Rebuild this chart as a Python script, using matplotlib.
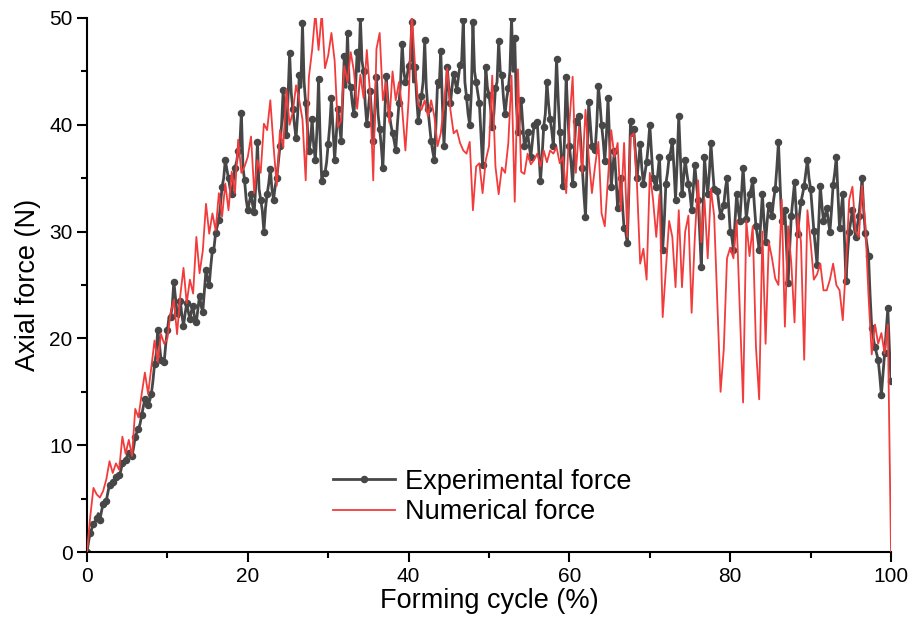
import numpy as np
import matplotlib
matplotlib.use('Agg')
import matplotlib.pyplot as plt
from matplotlib.ticker import MultipleLocator

# Forming cycle sampled every 0.4 % (251 samples, 0 .. 100 %)
cycle_step = 0.4

# Experimental axial force (N) at 0, 0.4, 0.8 ... 100 %
exp_force = [
    # 0 - 9.6 %
    0.0, 1.8, 2.6, 3.2, 3.0, 4.5, 4.8, 6.3, 6.6, 7.0, 7.2, 8.3, 8.6, 9.3, 9.0,
    10.8, 11.5, 12.8, 14.3, 13.8, 14.8, 17.6, 20.8, 18.0, 17.8,
    # 10 - 19.6 %
    20.8, 22.0, 25.3, 22.4, 23.5, 21.2, 23.3, 21.8, 23.0, 21.5, 24.0, 22.5, 26.4, 25.0, 28.3,
    29.9, 31.1, 34.2, 36.7, 35.0, 33.5, 36.0, 37.5, 41.1, 34.8,
    # 20 - 29.6 %
    32.0, 33.5, 31.8, 38.4, 33.0, 30.0, 33.5, 35.9, 33.0, 35.0, 38.0, 43.3, 39.0, 46.7, 41.5,
    38.8, 44.7, 49.5, 42.0, 37.5, 40.5, 36.7, 44.3, 34.7, 35.5,
    # 30 - 39.6 %
    38.2, 42.5, 36.7, 41.5, 38.5, 46.4, 48.6, 43.5, 41.0, 46.8, 50.0, 45.0, 40.1, 43.2, 38.5,
    44.5, 39.6, 36.0, 44.6, 41.0, 39.2, 37.6, 42.0, 47.6, 44.0,
    # 40 - 49.6 %
    45.5, 49.6, 45.4, 40.4, 42.7, 47.9, 41.5, 38.5, 36.7, 44.0, 46.9, 38.0, 45.4, 42.0, 44.8,
    43.3, 45.6, 49.8, 42.6, 40.0, 49.6, 44.0, 42.0, 36.2, 45.4,
    # 50 - 59.6 %
    42.8, 39.8, 43.4, 47.8, 44.7, 41.0, 43.4, 50.0, 48.1, 39.3, 42.3, 38.0, 39.3, 37.0, 40.0,
    40.3, 34.7, 39.8, 44.0, 40.5, 38.0, 46.2, 39.3, 34.3, 44.5,
    # 60 - 69.6 %
    38.0, 34.5, 40.4, 40.8, 36.0, 31.4, 42.1, 38.0, 37.6, 43.6, 40.0, 36.6, 42.5, 34.2, 37.5,
    32.2, 35.0, 30.3, 28.9, 40.4, 39.6, 35.0, 38.2, 34.5, 36.5,
    # 70 - 79.6 %
    40.0, 35.0, 34.2, 37.0, 28.3, 34.5, 37.0, 38.5, 33.0, 40.8, 33.5, 36.7, 34.5, 32.0, 36.2,
    33.0, 26.7, 37.0, 33.5, 38.3, 34.0, 33.8, 31.5, 32.5, 35.0,
    # 80 - 89.6 %
    30.0, 28.3, 33.5, 31.0, 36.0, 31.2, 33.5, 34.8, 30.5, 28.3, 33.5, 29.0, 32.5, 31.5, 34.0,
    38.4, 31.0, 32.0, 25.2, 31.5, 34.6, 29.8, 32.8, 34.3, 36.7,
    # 90 - 100 %
    34.0, 30.1, 26.9, 34.3, 31.0, 32.2, 30.0, 34.4, 37.0, 30.3, 33.5, 25.4, 30.0, 32.0, 29.5,
    31.5, 35.0, 29.9, 27.7, 21.0, 19.2, 18.0, 14.7, 18.6, 22.8,
    16.0,
]

# Experimental force in between (0.2, 0.6, 1.0 ... 99.8 %), the dense core of the band
exp_force_mid = [
    1.0, 2.2, 2.8, 3.6, 3.8, 4.6, 5.6, 6.4, 6.8, 7.0, 7.6, 8.4, 9.0, 9.1, 9.8,
    11.2, 12.0, 13.6, 14.0, 14.2, 16.0, 18.5, 19.5, 17.9, 19.5,
    22.0, 23.0, 23.8, 22.0, 22.2, 22.3, 22.5, 22.6, 21.8, 22.8, 23.0, 24.5, 25.5, 26.8, 28.5,
    30.5, 32.5, 35.0, 35.8, 34.0, 34.8, 36.5, 38.0, 36.0, 33.0,
    32.8, 32.5, 34.5, 34.0, 32.0, 32.2, 34.5, 34.0, 34.2, 36.5, 40.0, 40.5, 42.5, 43.0, 40.0,
    41.0, 43.5, 44.0, 40.0, 38.5, 38.0, 39.5, 38.5, 35.5, 36.5,
    40.0, 39.5, 39.0, 40.0, 42.5, 43.5, 44.0, 42.0, 43.5, 45.0, 46.0, 42.0, 41.5, 41.0, 41.5,
    41.0, 38.0, 40.0, 42.5, 40.0, 38.5, 40.0, 44.0, 45.0, 44.5,
    46.0, 44.0, 42.5, 41.5, 44.0, 43.5, 40.0, 37.5, 40.0, 43.5, 42.0, 41.5, 43.5, 43.5, 44.0,
    44.5, 46.0, 44.0, 41.0, 43.0, 45.0, 43.0, 39.0, 40.5, 43.5,
    41.5, 41.0, 44.0, 45.0, 42.5, 42.5, 45.0, 45.0, 42.0, 40.5, 40.0, 38.5, 38.0, 38.5, 40.0,
    37.5, 37.0, 41.0, 42.0, 39.5, 41.5, 42.5, 37.0, 39.0, 41.0,
    36.5, 37.5, 40.0, 38.5, 33.5, 36.5, 40.0, 37.5, 40.0, 42.0, 38.5, 39.0, 38.5, 36.0, 35.0,
    33.5, 32.5, 30.0, 34.0, 39.0, 37.5, 36.5, 36.0, 35.5, 38.0,
    37.5, 34.5, 35.5, 33.0, 31.0, 35.5, 37.5, 36.0, 36.5, 37.0, 35.0, 35.5, 33.5, 34.0, 34.5,
    30.0, 31.5, 35.0, 35.5, 36.0, 34.0, 32.5, 32.0, 34.0, 32.5,
    29.5, 31.0, 32.0, 33.5, 33.5, 32.5, 34.0, 32.5, 29.5, 31.0, 31.0, 31.0, 32.0, 33.0, 36.0,
    34.5, 31.5, 28.5, 28.5, 33.0, 32.0, 31.5, 33.5, 35.5, 35.0,
    32.0, 28.5, 30.5, 32.5, 31.5, 31.0, 32.0, 35.5, 33.5, 32.0, 29.5, 28.0, 31.0, 30.5, 30.5,
    33.0, 32.0, 28.8, 24.0, 20.0, 18.6, 16.5, 16.6, 20.7, 19.0,
]

# Numerical (FE) axial force (N) at 0, 0.4, 0.8 ... 100 %
num_force = [
    # 0 - 9.6 %
    0.0, 3.3, 6.0, 5.4, 5.1, 5.7, 6.8, 8.5, 7.4, 8.3, 7.7, 10.8, 9.2, 10.5, 9.0,
    13.4, 12.6, 14.8, 16.8, 14.8, 17.3, 19.8, 17.8, 20.4, 19.5,
    # 10 - 19.6 %
    20.0, 22.4, 23.6, 20.4, 24.0, 26.6, 23.3, 25.5, 24.2, 29.5, 26.1, 28.2, 32.6, 29.8, 31.7,
    30.1, 33.6, 31.4, 34.5, 32.0, 35.6, 33.6, 38.6, 35.5, 36.1,
    # 20 - 29.6 %
    37.0, 38.9, 33.6, 36.7, 35.5, 40.1, 39.5, 42.3, 38.0, 34.3, 39.5, 37.9, 43.3, 40.0, 41.2,
    43.7, 42.3, 40.5, 34.8, 44.5, 47.0, 50.5, 47.0, 50.5, 45.3,
    # 30 - 39.6 %
    46.5, 48.6, 46.0, 39.8, 40.4, 45.5, 44.0, 46.8, 45.0, 41.5, 44.7, 42.5, 47.0, 43.0, 34.8,
    47.1, 48.6, 42.3, 44.0, 40.2, 45.0, 42.3, 44.0, 41.5, 37.6,
    # 40 - 49.6 %
    42.3, 50.5, 45.5, 41.9, 41.4, 42.3, 40.8, 42.3, 40.8, 38.0, 39.2, 42.0, 45.3, 41.4, 39.2,
    39.5, 38.3, 37.6, 37.3, 38.4, 32.0, 36.1, 36.4, 33.6, 36.7,
    # 50 - 59.6 %
    38.0, 44.6, 36.1, 33.5, 36.0, 35.5, 38.3, 44.6, 32.8, 45.2, 35.6, 35.4, 37.3, 36.3, 36.7,
    37.3, 36.1, 37.6, 36.5, 37.6, 37.3, 37.9, 36.4, 37.0, 33.6,
    # 60 - 69.6 %
    40.2, 44.5, 35.5, 39.8, 35.5, 41.4, 37.0, 33.6, 36.2, 38.4, 31.7, 30.5, 35.0, 39.5, 37.0,
    38.3, 32.0, 38.3, 29.5, 38.9, 39.2, 34.5, 27.0, 28.4, 25.5,
    # 70 - 79.6 %
    35.5, 33.0, 29.5, 33.5, 22.0, 26.5, 31.0, 29.5, 24.8, 32.0, 24.8, 30.0, 31.5, 22.4, 29.5,
    34.8, 29.0, 33.0, 27.5, 34.0, 31.5, 23.3, 15.0, 19.0, 27.5,
    # 80 - 89.6 %
    28.5, 27.5, 31.0, 22.4, 14.0, 31.0, 27.7, 30.5, 19.2, 14.3, 30.0, 19.5, 29.0, 27.5, 25.6,
    25.0, 33.0, 21.1, 30.5, 27.0, 21.5, 31.5, 29.0, 18.0, 32.0,
    # 90 - 100 %
    29.0, 25.5, 26.0, 27.0, 24.5, 24.5, 25.5, 27.0, 25.0, 24.5, 21.7, 27.0, 33.0, 34.2, 30.0,
    29.5, 34.3, 30.7, 24.0, 18.5, 21.3, 19.5, 20.5, 18.6, 21.3,
    0.0,
]

series_labels = ['Experimental force', 'Numerical force']


def merge_samples(main, mid):
    # interleave the 0.4 % readings with the in-between readings
    merged = np.empty(len(main) + len(mid))
    merged[0::2] = main
    merged[1::2] = mid
    return merged


def plot_forces():
    plt.rcParams['font.family'] = ['Liberation Sans', 'DejaVu Sans']

    cycle = np.arange(len(num_force)) * cycle_step
    exp_all = merge_samples(exp_force, exp_force_mid)
    exp_cycle = np.arange(len(exp_all)) * cycle_step / 2

    fig = plt.figure(figsize=(9.12, 6.27), dpi=100)
    ax = fig.add_axes([0.0954, 0.1196, 0.8816, 0.8517])

    # experimental curve: dark grey line, markers on the 0.4 % readings
    ax.plot(exp_cycle, exp_all, color='#474747', lw=2.0, marker='o', ms=4.4,
            markevery=2, label=series_labels[0], zorder=2)
    # numerical curve on top
    ax.plot(cycle, num_force, color='#f23b3b', lw=1.3, label=series_labels[1], zorder=3)

    ax.set_xlim(0, 100)
    ax.set_ylim(0, 50)
    ax.xaxis.set_major_locator(MultipleLocator(20))
    ax.xaxis.set_minor_locator(MultipleLocator(10))
    ax.yaxis.set_major_locator(MultipleLocator(10))
    ax.yaxis.set_minor_locator(MultipleLocator(5))

    for side in ['top', 'right']:
        ax.spines[side].set_visible(False)
    for side in ['left', 'bottom']:
        ax.spines[side].set_linewidth(1.5)

    ax.tick_params(which='major', direction='out', length=7, width=1.5, labelsize=15)
    ax.tick_params(which='minor', direction='out', length=4, width=1.5)

    ax.set_xlabel('Forming cycle (%)', fontsize=19.5, labelpad=2)
    ax.set_ylabel('Axial force (N)', fontsize=19.5, labelpad=6)

    ax.legend(loc='center left', bbox_to_anchor=(0.306, 0.103), frameon=False,
              fontsize=19.5, handlelength=2.3, handletextpad=0.35, labelspacing=0.15,
              borderpad=0, borderaxespad=0, numpoints=1)

    fig.savefig('out.png', dpi=100)


def main():
    plot_forces()


if __name__ == "__main__":
    main()
